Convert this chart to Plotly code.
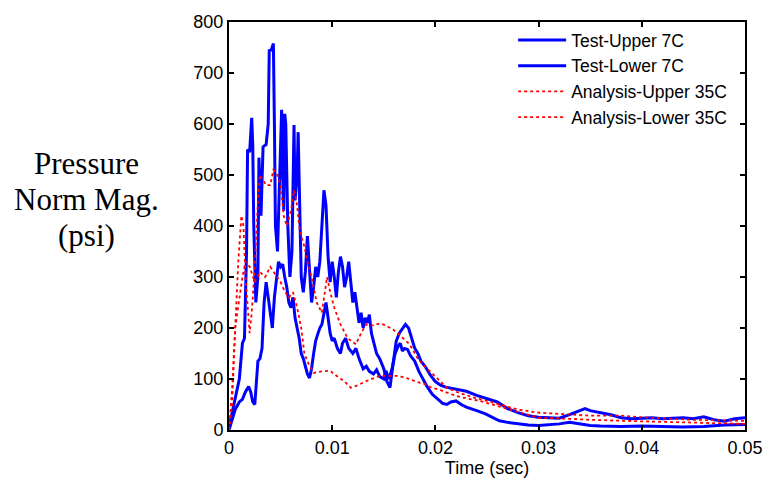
import plotly.graph_objects as go

# ---------------- data ----------------
test_upper_t = [0.0, 0.0005, 0.0010, 0.0013, 0.0015, 0.0017, 0.0018, 0.0020, 0.0022, 0.0023, 0.0024,
                0.0026, 0.0028, 0.0029, 0.0031, 0.0033, 0.0036, 0.0038, 0.0039, 0.0041, 0.0043,
                0.0044, 0.0045, 0.0047, 0.0049, 0.0051, 0.0052, 0.0053, 0.0054, 0.0055, 0.0057,
                0.0059, 0.0061, 0.0063, 0.0064, 0.0066, 0.0067, 0.0069, 0.0070, 0.0072, 0.0074,
                0.0076, 0.0078, 0.0080, 0.0082, 0.0084, 0.0086, 0.0088, 0.0090, 0.0092, 0.0094,
                0.0096, 0.0098, 0.0100, 0.0102, 0.0104, 0.0106, 0.0108, 0.0110, 0.0112, 0.0114,
                0.0116, 0.0118, 0.0120, 0.0122, 0.0124, 0.0126, 0.0128, 0.0130, 0.0132, 0.0134,
                0.0136, 0.0138, 0.0140, 0.0143, 0.0146, 0.0150, 0.0153, 0.0156, 0.0159, 0.0162,
                0.0165, 0.0168, 0.0171, 0.0174, 0.0177, 0.0180, 0.0183, 0.0186, 0.0190, 0.0195,
                0.0200, 0.0205, 0.0210, 0.0215, 0.0220, 0.0230, 0.0240, 0.0250, 0.0260, 0.0270,
                0.0280, 0.0290, 0.0300, 0.0310, 0.0320, 0.0330, 0.0340, 0.0345, 0.0350, 0.0360,
                0.0370, 0.0380, 0.0390, 0.0400, 0.0410, 0.0420, 0.0430, 0.0440, 0.0450, 0.0460,
                0.0470, 0.0480, 0.0490, 0.0500]
test_upper_v = [5, 50, 100, 170, 180, 350, 550, 545, 612, 560, 400,
                250, 300, 534, 420, 555, 560, 600, 744, 745, 758,
                600, 400, 350, 520, 628, 500, 430, 620, 600, 400,
                300, 350, 598, 450, 500, 584, 400, 300, 270, 310,
                380, 320, 250, 280, 320, 300, 330, 400, 470, 440,
                340, 290, 330, 300, 260, 310, 340, 320, 280, 300,
                330, 290, 250, 270, 240, 210, 230, 200, 220, 210,
                226, 190, 174, 150, 140, 120, 95, 83, 130, 174,
                190, 198, 207, 200, 180, 160, 150, 135, 125, 108,
                95, 88, 84, 82, 80, 76, 68, 62, 55, 42,
                34, 28, 25, 24, 23, 30, 38, 42, 38, 34,
                30, 24, 22, 23, 24, 22, 23, 24, 22, 26,
                20, 17, 22, 24]

test_lower_t = [0.0, 0.0003, 0.0006, 0.0010, 0.0013, 0.0016, 0.0019, 0.0021, 0.0023, 0.0025, 0.0027,
                0.0028, 0.0030, 0.0032, 0.0034, 0.0036, 0.0038, 0.0040, 0.0042, 0.0044, 0.0046,
                0.0048, 0.0050, 0.0052, 0.0054, 0.0056, 0.0058, 0.0060, 0.0062, 0.0064, 0.0066,
                0.0068, 0.0070, 0.0072, 0.0074, 0.0076, 0.0078, 0.0080, 0.0082, 0.0084, 0.0086,
                0.0088, 0.0090, 0.0092, 0.0094, 0.0096, 0.0098, 0.0100, 0.0102, 0.0105, 0.0108,
                0.0110, 0.0113, 0.0116, 0.0120, 0.0123, 0.0126, 0.0130, 0.0133, 0.0136, 0.0140,
                0.0143, 0.0146, 0.0150, 0.0152, 0.0155, 0.0158, 0.0161, 0.0164, 0.0166, 0.0168,
                0.0170, 0.0173, 0.0176, 0.0180, 0.0184, 0.0188, 0.0192, 0.0197, 0.0202, 0.0207,
                0.0211, 0.0215, 0.0220, 0.0225, 0.0230, 0.0235, 0.0240, 0.0248, 0.0255, 0.0262,
                0.0270, 0.0280, 0.0290, 0.0300, 0.0310, 0.0320, 0.0330, 0.0340, 0.0350, 0.0360,
                0.0380, 0.0400, 0.0420, 0.0440, 0.0460, 0.0480, 0.0500]
test_lower_v = [0, 20, 40, 55, 60, 75, 85, 75, 55, 50, 100,
                135, 140, 160, 250, 290, 260, 230, 200, 260, 300,
                330, 320, 325, 300, 280, 250, 240, 260, 220, 200,
                180, 150, 140, 125, 110, 102, 120, 150, 175, 188,
                200, 207, 230, 250, 220, 190, 175, 180, 160, 150,
                170, 180, 160, 150, 160, 140, 120, 125, 115, 110,
                118, 105, 100, 116, 100, 120, 150, 165, 170, 155,
                160, 158, 145, 135, 115, 100, 85, 70, 60, 52,
                50, 55, 57, 50, 45, 42, 38, 32, 25, 18,
                15, 12, 10, 9, 10, 12, 15, 12, 9, 8,
                7, 8, 7, 6, 7, 10, 11]

analysis_upper_t = [0.0, 0.0003, 0.0006, 0.0009, 0.0012, 0.0014, 0.0016, 0.0018, 0.0020, 0.0022,
                    0.0025, 0.0028, 0.0030, 0.0033, 0.0036, 0.0040, 0.0043, 0.0046, 0.0050, 0.0053,
                    0.0056, 0.0060, 0.0063, 0.0066, 0.0068, 0.0070, 0.0073, 0.0076, 0.0080, 0.0085,
                    0.0090, 0.0095, 0.0098, 0.0102, 0.0108, 0.0115, 0.0123, 0.0128, 0.0133, 0.0140,
                    0.0146, 0.0152, 0.0159, 0.0166, 0.0175, 0.0183, 0.0192, 0.0200, 0.0211, 0.0220,
                    0.0235, 0.0250, 0.0265, 0.0280, 0.0300, 0.0330, 0.0350, 0.0380, 0.0400, 0.0450,
                    0.0500]
analysis_upper_v = [0, 50, 200, 330, 420, 400, 300, 250, 190, 230,
                    320, 450, 500, 490, 480, 480, 510, 505, 480, 420,
                    400, 430, 470, 440, 400, 380, 360, 330, 300, 250,
                    230, 300, 271, 240, 207, 180, 168, 190, 207, 205,
                    209, 205, 197, 185, 168, 140, 120, 105, 83, 75,
                    65, 57, 48, 40, 34, 31, 28, 28, 25, 20,
                    18]

analysis_lower_t = [0.0, 0.0003, 0.0006, 0.0010, 0.0013, 0.0016, 0.0020, 0.0025, 0.0030, 0.0035,
                    0.0040, 0.0045, 0.0050, 0.0054, 0.0058, 0.0062, 0.0066, 0.0070, 0.0073, 0.0077,
                    0.0082, 0.0090, 0.0098, 0.0105, 0.0112, 0.0118, 0.0125, 0.0133, 0.0140, 0.0146,
                    0.0155, 0.0163, 0.0168, 0.0175, 0.0182, 0.0190, 0.0195, 0.0205, 0.0214, 0.0225,
                    0.0243, 0.0255, 0.0269, 0.0285, 0.0300, 0.0330, 0.0350, 0.0400, 0.0450, 0.0500]
analysis_lower_v = [0, 80, 200, 260, 300, 330, 320, 290, 310, 300,
                    320, 305, 290, 272, 260, 270, 240, 200, 150, 130,
                    112, 115, 116, 105, 95, 83, 88, 96, 102, 106,
                    106, 106, 104, 100, 94, 90, 84, 78, 71, 64,
                    57, 50, 42, 32, 24, 22, 20, 17, 14, 12]

series_names = ["Test-Upper 7C", "Test-Lower 7C", "Analysis-Upper 35C", "Analysis-Lower 35C"]
x_ticks = [0, 0.01, 0.02, 0.03, 0.04, 0.05]
x_tick_labels = ["0", "0.01", "0.02", "0.03", "0.04", "0.05"]
y_ticks = [0, 100, 200, 300, 400, 500, 600, 700, 800]
y_title_lines = ["Pressure", "Norm Mag.", "(psi)"]
x_title = "Time (sec)"

# ---------------- figure ----------------
fig = go.Figure()
blue = dict(color="#0000FF", width=3)
red = dict(color="#FF0000", width=1.8, dash="dot")

fig.add_trace(go.Scatter(x=test_upper_t, y=test_upper_v, mode="lines", name=series_names[0], line=blue))
fig.add_trace(go.Scatter(x=test_lower_t, y=test_lower_v, mode="lines", name=series_names[1], line=blue))
fig.add_trace(go.Scatter(x=analysis_upper_t, y=analysis_upper_v, mode="lines", name=series_names[2], line=red))
fig.add_trace(go.Scatter(x=analysis_lower_t, y=analysis_lower_v, mode="lines", name=series_names[3], line=red))

axis_common = dict(
    showline=True, linecolor="black", linewidth=2, mirror="allticks",
    ticks="inside", ticklen=5, tickwidth=2, tickcolor="black",
    showgrid=False, zeroline=False,
    tickfont=dict(family="Liberation Sans, Arial", size=18, color="black"),
)

fig.update_xaxes(range=[0, 0.05], tickvals=x_ticks, ticktext=x_tick_labels,
                 title=dict(text=x_title, font=dict(family="Liberation Sans, Arial", size=18, color="black"),
                            standoff=2),
                 **axis_common)
fig.update_yaxes(range=[0, 800], tickvals=y_ticks, **axis_common)

# multi-line horizontal y title (serif)
for line_text, py in zip(y_title_lines, [161, 197, 234]):
    fig.add_annotation(text=line_text, xref="paper", yref="paper",
                       x=(85 - 229) / 523, y=(430 - py) / 412,
                       xanchor="center", yanchor="middle", showarrow=False,
                       font=dict(family="Liberation Serif, Times New Roman", size=31, color="black"))

fig.update_layout(
    width=775, height=485,
    margin=dict(l=229, r=23, t=18, b=55),
    paper_bgcolor="white", plot_bgcolor="white",
    showlegend=True,
    legend=dict(x=(517 - 229) / 523, y=1.0, xanchor="left", yanchor="top",
                bgcolor="rgba(0,0,0,0)", borderwidth=0,
                font=dict(family="Liberation Sans, Arial", size=17.5, color="black"),
                itemwidth=48, tracegroupgap=0),
)

fig.write_html("out.html")
